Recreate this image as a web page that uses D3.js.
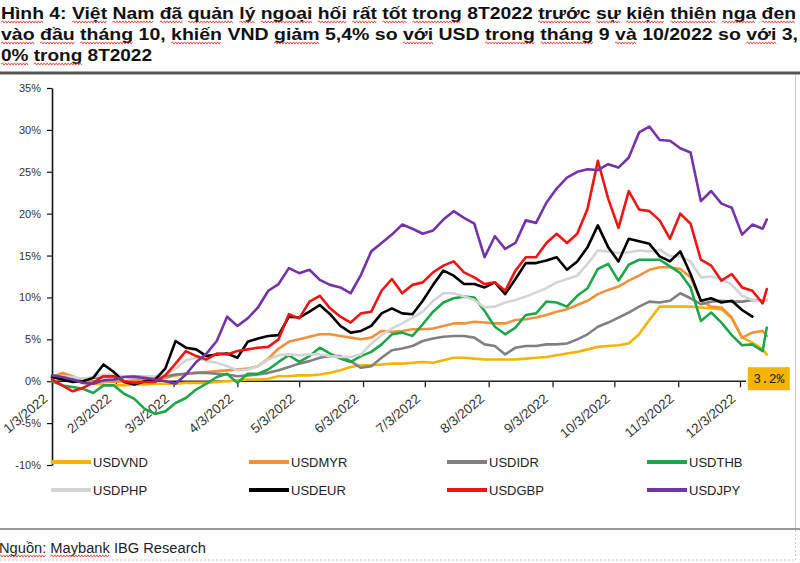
<!DOCTYPE html>
<html><head><meta charset="utf-8">
<script src="https://cdn.jsdelivr.net/npm/d3@7"></script>
<style>body{margin:0;background:#fff} svg{display:block}</style>
</head><body>
<svg id="c" width="800" height="563"></svg>
<script>
const titleLines = [
  "Hình 4: Việt Nam đã quản lý ngoại hối rất tốt trong 8T2022 trước sự kiện thiên nga đen",
  "vào đầu tháng 10, khiến VND giảm 5,4% so với USD trong tháng 9 và 10/2022 so với 3,",
  "0% trong 8T2022"
];
const sourceText = "Nguồn: Maybank IBG Research";
const lastLabel = "3.2%";

const dates = ["2022-01-03","2022-01-08","2022-01-13","2022-01-18","2022-01-23","2022-01-28","2022-02-02","2022-02-07","2022-02-12","2022-02-17",
"2022-02-22","2022-02-27","2022-03-04","2022-03-09","2022-03-14","2022-03-19","2022-03-24","2022-03-29","2022-04-03","2022-04-08",
"2022-04-13","2022-04-18","2022-04-23","2022-04-28","2022-05-03","2022-05-08","2022-05-13","2022-05-18","2022-05-23","2022-05-28",
"2022-06-02","2022-06-07","2022-06-12","2022-06-17","2022-06-22","2022-06-27","2022-07-02","2022-07-07","2022-07-12","2022-07-17",
"2022-07-22","2022-07-27","2022-08-01","2022-08-06","2022-08-11","2022-08-16","2022-08-21","2022-08-26","2022-08-31","2022-09-05",
"2022-09-10","2022-09-15","2022-09-20","2022-09-25","2022-09-30","2022-10-05","2022-10-10","2022-10-15","2022-10-20","2022-10-25",
"2022-10-30","2022-11-04","2022-11-09","2022-11-14","2022-11-19","2022-11-24","2022-11-29","2022-12-04","2022-12-09","2022-12-14","2022-12-16"];

const USDVND = [0.3,0.8,0.5,0.0,-0.3,-0.4,-0.5,-0.5,-0.4,-0.4, -0.3,-0.3,-0.3,-0.2,-0.2,-0.2,-0.1,0.0,0.1,0.2, 0.2,0.3,0.6,0.6,0.7,0.7,0.8,1.0,1.3,1.7, 1.9,1.9,2.0,2.1,2.1,2.2,2.3,2.2,2.5,2.8, 2.8,2.7,2.6,2.6,2.6,2.6,2.7,2.8,2.9,3.1, 3.3,3.5,3.8,4.1,4.2,4.3,4.5,5.6,7.3,8.9, 8.9,8.9,8.9,8.8,8.7,8.6,7.5,5.2,4.6,3.8,3.2];
const USDMYR = [0.5,1.0,0.6,0.1,-0.1,0.0,-0.1,0.0,0.1,0.1, 0.2,0.4,0.7,0.9,1.0,1.1,1.2,1.3,1.4,1.5, 1.8,2.7,3.9,4.7,5.0,5.3,5.6,5.6,5.4,5.2, 5.0,5.2,6.0,5.9,6.0,6.2,6.2,6.3,6.6,6.9, 6.9,7.1,7.0,6.9,6.9,7.3,7.4,7.6,7.9,8.3, 8.6,9.1,9.6,10.4,10.9,11.3,12.0,12.6,13.3,13.6, 13.6,13.4,12.4,9.6,8.9,8.8,7.6,5.2,5.8,6.0,5.4];
const USDIDR = [0.4,0.4,0.3,0.3,0.4,0.5,0.5,0.6,0.6,0.5, 0.5,0.6,0.8,0.9,1.0,1.0,0.9,0.8,0.6,0.7, 0.8,1.0,1.3,1.7,2.1,2.4,2.8,3.0,3.0,2.4, 1.6,1.8,2.8,3.7,3.9,4.2,4.8,5.1,5.3,5.4, 5.4,5.2,4.4,4.2,3.2,4.0,4.2,4.2,4.4,4.4, 4.5,5.0,5.6,6.5,7.0,7.6,8.2,8.9,9.5,9.4, 9.6,10.5,9.9,9.2,9.5,9.6,9.5,9.5,9.7,9.6,9.7];
const USDTHB = [0.0,-0.5,-0.7,-0.9,-1.4,-0.5,-0.5,-1.5,-2.1,-3.3, -3.9,-3.6,-2.6,-2.0,-1.0,-0.3,0.5,0.9,-0.2,0.9, 0.9,1.4,2.3,3.1,2.3,3.0,4.0,3.3,2.7,2.3, 3.0,3.5,4.4,5.6,5.8,5.4,6.8,8.3,9.4,9.9, 10.1,10.0,8.4,6.5,5.6,6.4,7.9,8.1,9.5,9.4, 8.9,10.2,11.1,13.4,14.0,12.0,13.9,14.5,14.5,14.5, 13.7,12.9,11.2,7.2,8.2,7.0,5.5,4.3,4.4,3.6,6.4];
const USDPHP = [0.5,0.6,0.5,0.3,0.5,0.8,0.8,0.6,0.4,0.5, 0.6,0.8,1.5,2.5,2.8,2.4,2.2,1.8,1.3,1.4, 1.8,2.6,3.1,3.2,3.1,3.2,3.2,3.0,2.9,2.9, 3.2,4.5,5.5,6.3,6.9,7.6,8.3,9.6,10.5,10.5, 10.1,9.7,8.8,8.9,9.4,9.7,10.1,10.6,11.1,11.8, 12.2,12.6,14.0,15.6,15.5,15.3,15.4,15.6,15.5,15.7, 14.9,14.9,14.3,12.4,12.5,12.2,11.5,10.2,9.7,9.5,9.7];
const USDEUR = [0.5,0.2,-0.1,0.0,0.4,2.0,1.1,-0.1,-0.4,0.0, 0.2,1.5,4.8,4.0,3.8,3.0,3.2,3.3,2.8,4.7, 5.1,5.4,5.5,7.7,7.6,8.3,9.1,8.0,6.6,5.8, 6.0,6.6,8.1,8.7,8.1,8.0,9.6,11.5,13.2,12.6, 11.6,11.6,11.2,11.8,10.4,12.2,14.1,14.1,14.4,14.8, 13.3,14.3,16.0,18.6,16.0,14.3,17.0,16.7,16.4,14.9, 14.3,15.5,12.8,9.6,9.9,9.4,9.6,8.5,7.7,null,null];
const USDGBP = [0.2,-0.5,-1.2,-0.8,-0.2,0.6,0.6,0.0,-0.2,-0.1, -0.1,0.7,2.1,3.6,3.0,2.6,3.3,3.2,3.6,3.8, 4.0,4.1,5.0,8.0,7.5,9.5,10.2,8.7,7.7,7.0, 8.1,8.3,10.8,12.2,10.5,11.5,11.8,13.0,13.8,14.3, 13.0,12.4,11.6,11.8,10.8,13.2,14.8,14.8,16.5,17.6, 16.5,17.6,20.6,26.3,21.8,18.3,22.7,20.5,20.3,19.2, 17.0,20.0,18.8,14.5,13.8,12.0,12.8,11.2,10.8,9.3,11.0];
const USDJPY = [0.7,0.5,0.2,-0.2,-0.3,0.1,0.2,0.5,0.5,0.4, 0.2,0.0,-0.3,0.8,2.3,3.3,4.8,7.7,6.6,7.5, 8.8,10.8,11.6,13.5,12.9,13.3,12.1,11.5,11.2,10.5, 12.7,15.5,16.5,17.5,18.7,18.2,17.6,18.0,19.3,20.3, 19.5,18.8,14.8,17.3,15.8,16.5,19.2,18.9,21.3,23.0, 24.3,25.0,25.3,25.2,25.9,25.5,26.7,29.7,30.4,28.8, 28.7,27.8,27.3,21.5,22.7,21.2,20.7,17.5,18.7,18.2,19.3];

const seriesNames = ["USDVND","USDMYR","USDIDR","USDTHB","USDPHP","USDEUR","USDGBP","USDJPY"];
const seriesValues = [USDVND,USDMYR,USDIDR,USDTHB,USDPHP,USDEUR,USDGBP,USDJPY];
const seriesColors = ["#f4b400","#f0923b","#808080","#1fa64a","#d4d4d4","#000000","#f01414","#7433a8"];
const yTicks = [-10,-5,0,5,10,15,20,25,30,35];
const xTickDates = ["2022-01-03","2022-02-03","2022-03-03","2022-04-03","2022-05-03","2022-06-03","2022-07-03","2022-08-03","2022-09-03","2022-10-03","2022-11-03","2022-12-03"];
// words flagged by the spell checker in the original screenshot
const flaggedWords = ["Hình","Việt","Nam","đã","quản","lý","ngoại","hối","rất","tốt","trong","trước","sự","kiện","thiên","nga","đen",
  "vào","đầu","tháng","khiến","giảm","với","và","0%","Nguồn:","Maybank"];

const parse = d3.timeParse("%Y-%m-%d");
const fmt = d3.timeFormat("%-m/%-d/%Y");
const svg = d3.select("#c");
const FONT = "'Liberation Sans', Arial, Helvetica, sans-serif";

function squiggle(textNode, yBase) {
  const str = textNode.textContent;
  const re = /\S+/g; let m;
  const g = svg.append("g");
  while ((m = re.exec(str)) !== null) {
    if (!flaggedWords.includes(m[0])) continue;
    const s = textNode.getStartPositionOfChar(m.index).x;
    const e = textNode.getEndPositionOfChar(m.index + m[0].length - 1).x;
    let d = `M${s},${yBase}`;
    let up = true;
    for (let xx = s + 1.5; xx <= e; xx += 1.5) { d += `L${xx},${yBase + (up ? -1.1 : 1.1)}`; up = !up; }
    g.append("path").attr("d", d).attr("fill","none").attr("stroke","#e0261e").attr("stroke-width",0.8);
  }
}

// title
const tl = [795, 797, 151];
const titles = svg.selectAll("text.title").data(titleLines).join("text")
  .attr("class","title")
  .attr("x", 1).attr("y", (d,i) => 19 + i*21)
  .attr("font-family", FONT).attr("font-weight","bold").attr("font-size", 16)
  .attr("fill", "#111")
  .attr("textLength", (d,i) => tl[i]).attr("lengthAdjust","spacingAndGlyphs")
  .text(d => d);
titles.each(function(d,i){ squiggle(this, 19 + i*21 + 3); });

svg.append("line").attr("x1",0).attr("x2",800).attr("y1",73).attr("y2",73)
  .attr("stroke","#555").attr("stroke-width",3);
svg.append("line").attr("x1",795.5).attr("x2",795.5).attr("y1",75).attr("y2",529)
  .attr("stroke","#c8c8c8").attr("stroke-width",1);

const x = d3.scaleTime().domain([parse("2022-01-03"), parse("2022-12-03")]).range([52, 740]);
const y = d3.scaleLinear().domain([-10, 35]).range([465, 88]);

// y axis
const ya = svg.append("g").attr("transform","translate(52,0)")
  .call(d3.axisLeft(y).tickValues(yTicks).tickFormat(d => d + "%").tickSize(5).tickPadding(6).tickSizeOuter(0));
ya.select(".domain").attr("stroke","#111").attr("stroke-width",1.6);
ya.selectAll(".tick line").attr("stroke","#111").attr("stroke-width",1.2);
ya.selectAll("text").attr("font-family",FONT).attr("font-size",11).attr("fill","#333");

// x axis
const xa = svg.append("g").attr("transform",`translate(0,${y(0)})`)
  .call(d3.axisBottom(x).tickValues(xTickDates.map(parse)).tickFormat(fmt).tickSize(6).tickSizeOuter(0));
xa.select(".domain").remove();
xa.append("line").attr("x1", x(parse("2022-01-03"))).attr("x2", 746)
  .attr("stroke","#222").attr("stroke-width",1.5);
xa.selectAll(".tick line").attr("stroke","#222").attr("stroke-width",1.3);
xa.selectAll(".tick text")
  .attr("font-family",FONT).attr("font-size",13.5).attr("fill","#333")
  .attr("text-anchor","end").attr("dy",null).attr("y",null)
  .attr("transform","translate(-4,19) rotate(-40)");

// lines
const line = d3.line()
  .defined(d => d.v !== null)
  .x(d => x(d.date)).y(d => y(d.v));
const parsedDates = dates.map(parse);
svg.append("g").selectAll("path").data(seriesValues).join("path")
  .attr("d", vals => line(vals.map((v,i) => ({date: parsedDates[i], v}))))
  .attr("fill","none")
  .attr("stroke", (d,i) => seriesColors[i])
  .attr("stroke-width", 2.6)
  .attr("stroke-linejoin","round").attr("stroke-linecap","round");

// last value label
const lx = x(parsedDates[parsedDates.length-1]);
svg.append("rect").attr("x", lx - 19).attr("y", y(0) - 14).attr("width", 42).attr("height", 23)
  .attr("fill","#f4b400");
svg.append("text").attr("x", lx + 2).attr("y", y(0) + 2)
  .attr("text-anchor","middle").attr("font-family","'Liberation Mono','DejaVu Sans Mono',monospace")
  .attr("font-size",13).attr("fill","#222").text(lastLabel);

// legend
const colX = [51, 249, 447, 647];
const rowY = [462, 490];
const lg = svg.append("g").selectAll("g").data(seriesNames).join("g")
  .attr("transform", (d,i) => `translate(${colX[i%4]},${rowY[Math.floor(i/4)]})`);
lg.append("line").attr("x1",0).attr("x2",40).attr("y1",0).attr("y2",0)
  .attr("stroke",(d,i) => seriesColors[i]).attr("stroke-width",4);
lg.append("text").attr("x",42).attr("y",5)
  .attr("font-family",FONT).attr("font-size",13).attr("fill","#222").text(d => d);

// source
svg.append("line").attr("x1",0).attr("x2",800).attr("y1",529).attr("y2",529)
  .attr("stroke","#777").attr("stroke-width",1.5);
const src = svg.append("text").attr("x",-1).attr("y",553)
  .attr("font-family",FONT).attr("font-size",14).attr("fill","#222")
  .attr("textLength",207).attr("lengthAdjust","spacingAndGlyphs").text(sourceText);
squiggle(src.node(), 556);
svg.append("line").attr("x1",0).attr("x2",795).attr("y1",560).attr("y2",560)
  .attr("stroke","#ccc").attr("stroke-width",1).attr("stroke-dasharray","2,2");
svg.append("line").attr("x1",795.5).attr("x2",795.5).attr("y1",530).attr("y2",560)
  .attr("stroke","#ccc").attr("stroke-width",1).attr("stroke-dasharray","2,2");
</script>
</body></html>
